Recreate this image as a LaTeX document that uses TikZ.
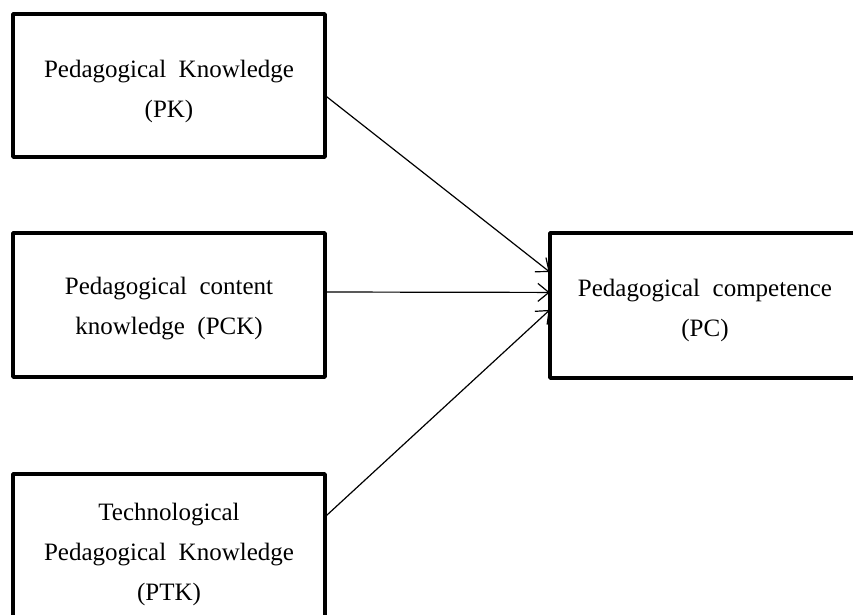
\documentclass[tikz,border=0pt]{standalone}
\usepackage{fontspec}
\setmainfont{Liberation Serif}
\usetikzlibrary{arrows.meta,calc}
\begin{document}
\begin{tikzpicture}[x=1pt,y=-1pt,
  box/.style={draw=black,line width=3.5pt,line join=round},
  lbl/.style={align=center,font=\fontsize{25}{40}\selectfont,inner sep=0pt},
  conn/.style={draw=black,line width=1.2pt,-{Straight Barb[length=11pt,width=18pt,line width=1.2pt]}}]
\useasboundingbox (0,0) rectangle (853,614);
\draw[box] (13,14) rectangle (325,157);
\node[inner sep=0pt,minimum width=312pt,minimum height=143pt] (pk) at (169,85.5) {};
\draw[box] (13,233) rectangle (325,377);
\node[inner sep=0pt,minimum width=312pt,minimum height=144pt] (pck) at (169,305) {};
\draw[box] (13,474) rectangle (325,660);
\node[inner sep=0pt,minimum width=312pt,minimum height=186pt] (ptk) at (169,567) {};
\draw[box] (550,233) rectangle (880,378);
\node[inner sep=0pt,minimum width=330pt,minimum height=145pt] (pc) at (715,305.5) {};
\node[lbl] (tpk) at (169,91) {Pedagogical\ \ Knowledge\\(PK)};
\node[lbl] (tpck) at (169,309) {Pedagogical\ \ content\\knowledge\ \ (PCK)};
\node[lbl] (tptk) at (169,554) {Technological\\Pedagogical\ \ Knowledge\\(PTK)};
\node[lbl] (tpc) at (705,310) {Pedagogical\ \ competence\\(PC)};
\draw[conn] ($(pk.north east)!0.57!(pk.south east)$) -- ($(pc.north west)!0.27!(pc.south west)$);
\draw[conn] ($(pck.north east)!0.41!(pck.south east)$) -- ($(pc.north west)!0.41!(pc.south west)$);
\draw[conn] ($(ptk.north east)!0.23!(ptk.south east)$) -- ($(pc.north west)!0.53!(pc.south west)$);
\end{tikzpicture}
\end{document}
